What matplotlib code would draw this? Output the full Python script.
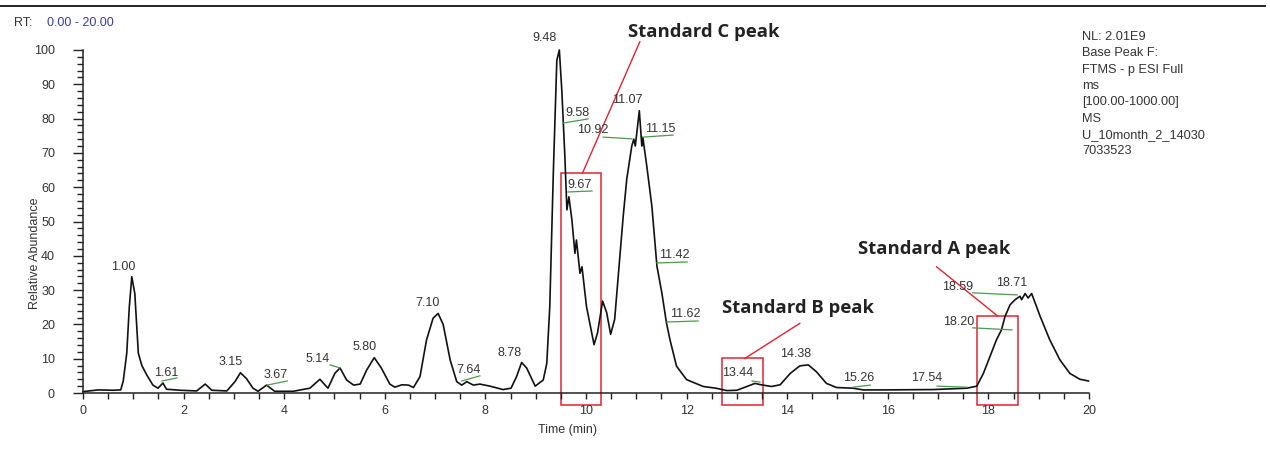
import matplotlib.pyplot as plt
from matplotlib.lines import Line2D
from matplotlib.patches import Rectangle
from matplotlib.ticker import MultipleLocator

# .. Chromatogram trace (time in min, relative abundance in %).
times = [
    0.00, 0.30, 0.60, 0.75, 0.80, 0.87, 0.92, 0.97, 1.03, 1.10, 1.17, 1.27,
    1.39, 1.49, 1.59, 1.66, 1.93, 2.26, 2.43, 2.56, 2.86, 3.02, 3.13, 3.25,
    3.38, 3.48, 3.65, 3.81, 4.18, 4.51, 4.71, 4.87, 5.01, 5.11, 5.24, 5.38,
    5.51, 5.64, 5.79, 5.93, 6.10, 6.20, 6.34, 6.47, 6.57, 6.70, 6.83, 6.96,
    7.06, 7.16, 7.30, 7.43, 7.53, 7.63, 7.76, 7.89, 8.09, 8.35, 8.51, 8.62,
    8.72, 8.82, 8.99, 9.15, 9.22, 9.28, 9.35, 9.42, 9.47, 9.52, 9.55, 9.58,
    9.62, 9.66, 9.72, 9.78, 9.81, 9.88, 9.92, 10.01, 10.16, 10.23, 10.33,
    10.41, 10.49, 10.57, 10.74, 10.81, 10.91, 10.95, 10.98, 11.06, 11.11,
    11.13, 11.21, 11.31, 11.41, 11.51, 11.60, 11.67, 11.80, 12.00, 12.33,
    12.58, 12.80, 13.00, 13.36, 13.48, 13.69, 13.86, 14.06, 14.25, 14.42,
    14.58, 14.78, 14.98, 15.31, 15.51, 15.91, 16.90, 17.57, 17.77, 17.90,
    18.03, 18.16, 18.26, 18.33, 18.43, 18.53, 18.63, 18.66, 18.73, 18.79,
    18.86, 19.03, 19.22, 19.42, 19.62, 19.82, 19.99,
]
abundance = [
    0.4, 0.9, 0.8, 0.9, 3.5, 11.6, 25.0, 33.9, 29.0, 11.6, 8.0, 5.2,
    2.3, 1.4, 2.9, 1.1, 0.8, 0.6, 2.6, 0.8, 0.6, 3.3, 5.9, 4.2,
    1.4, 0.5, 2.3, 0.5, 0.5, 1.4, 4.0, 1.4, 5.8, 7.3, 3.8, 2.3,
    2.6, 6.7, 10.3, 7.3, 2.6, 1.7, 2.4, 2.3, 1.6, 4.8, 15.5, 21.8,
    23.2, 20.0, 9.6, 3.3, 2.3, 3.3, 2.3, 2.6, 2.0, 1.0, 1.4, 4.8,
    8.9, 7.3, 2.0, 3.8, 8.6, 25.2, 64.0, 97.0, 100.0, 88.0, 78.6, 68.9,
    53.4, 57.2, 50.4, 40.7, 44.6, 34.9, 36.8, 25.2, 14.1, 17.6, 26.8,
    23.5, 17.1, 21.5, 51.6, 62.3, 72.0, 74.0, 72.0, 82.3, 72.0,
    74.5, 66.0, 54.4, 37.0, 29.0, 20.4, 15.5, 7.8, 3.9, 1.9,
    1.4, 0.7, 0.8, 2.8, 2.4, 1.9, 2.4, 5.7, 7.9, 8.2,
    6.2, 2.8, 1.6, 1.4, 0.9, 0.9, 1.0, 1.4, 2.0, 5.7,
    10.6, 15.5, 18.4, 22.3, 25.7, 27.2, 28.2, 27.2, 29.0, 27.7,
    29.0, 22.3, 15.5, 9.7, 5.7, 4.0, 3.5,
]

# .. Peak labels: text, label anchor (time, abundance).
peak_labels = ["1.00", "1.61", "3.15", "3.67", "5.14", "5.80", "7.10",
               "7.64", "8.78", "9.48", "9.58", "10.92", "11.07", "11.15",
               "9.67", "11.42", "11.62", "13.44", "14.38", "15.26", "17.54",
               "18.59", "18.71", "18.20"]
label_t = [0.81, 1.65, 2.94, 3.84, 4.67, 5.59, 6.84, 7.67, 8.49, 9.18, 9.82,
           10.14, 10.83, 11.47, 9.88, 11.75, 11.97, 13.02, 14.17, 15.43,
           16.78, 17.38, 18.47, 17.40]
label_y = [36.7, 5.8, 9.0, 5.2, 9.9, 13.4, 26.2, 6.7, 11.7, 103.5, 81.6,
           76.7, 85.4, 77.0, 60.6, 40.2, 23.0, 5.8, 11.4, 4.4, 4.4, 30.9,
           32.1, 20.7]

# .. Green leader lines (t0, y0, t1, y1).
leaders = [
    (1.57, 3.5, 1.87, 4.4), (3.66, 2.3, 4.06, 3.5), (4.91, 8.2, 5.11, 7.3),
    (7.53, 3.5, 7.89, 5.0), (9.54, 78.7, 10.04, 79.9),
    (10.34, 74.6, 10.91, 74.1), (11.13, 74.6, 11.73, 75.2),
    (9.64, 58.6, 10.12, 58.9), (11.41, 37.9, 12.01, 38.2),
    (11.61, 20.7, 12.23, 21.0), (13.30, 3.5, 13.46, 3.2),
    (15.31, 1.7, 15.65, 2.3), (16.98, 2.0, 17.57, 1.7),
    (17.69, 29.2, 18.57, 28.6), (17.69, 19.0, 18.47, 18.4),
]

# .. Standard peak highlights: name, box (t0, t1, y0, y1), line, text anchor.
std_names = ["Standard C peak", "Standard B peak", "Standard A peak"]
std_boxes = [(9.50, 10.30, -3.5, 64.1), (12.70, 13.52, -3.5, 10.2),
             (17.77, 18.58, -3.5, 22.4)]
std_lines = [(9.93, 64.1, 11.07, 102.4), (13.16, 10.1, 14.25, 20.3),
             (18.18, 22.5, 16.97, 36.8)]
std_text = [(10.83, 105.2), (12.70, 24.8), (15.41, 42.0)]

info_lines = ["NL: 2.01E9", "Base Peak F:", "FTMS - p ESI Full", "ms",
              "[100.00-1000.00]", "MS", "U_10month_2_14030", "7033523"]

W, H = 1270, 449
fig = plt.figure(figsize=(W / 100, H / 100), dpi=100)
plt.rcParams["font.family"] = ["Liberation Sans", "DejaVu Sans"]
ax = fig.add_axes([83 / W, 1 - 393 / H, 1006 / W, 343 / H])

txt_col = "#333333"
red = "#e3232f"
green = "#4c9a4c"
fs = 9

# .. Trace.
ax.plot(times, abundance, color="#111111", lw=1.2, clip_on=False)

# .. Peak labels and leaders.
for lab, t, y in zip(peak_labels, label_t, label_y):
    ax.text(t, y, lab, ha="center", va="center", fontsize=fs, color=txt_col,
            clip_on=False)
for t0, y0, t1, y1 in leaders:
    ax.plot([t0, t1], [y0, y1], color=green, lw=0.9, clip_on=False)

# .. Standard highlights.
for name, box, ln, pos in zip(std_names, std_boxes, std_lines, std_text):
    t0, t1, y0, y1 = box
    ax.add_patch(Rectangle((t0, y0), t1 - t0, y1 - y0, fill=False,
                           edgecolor=red, lw=1.1, clip_on=False))
    ax.plot([ln[0], ln[2]], [ln[1], ln[3]], color=red, lw=1.0,
            clip_on=False)
    ax.text(pos[0], pos[1], name, ha="left", va="center", fontsize=13.3,
            fontweight="bold", family=["Open Sans", "DejaVu Sans"],
            color="#222222", clip_on=False)

# .. Axes styling.
ax.set_xlim(0, 20)
ax.set_ylim(0, 100)
for side in ("top", "right"):
    ax.spines[side].set_visible(False)
for side in ("left", "bottom"):
    ax.spines[side].set_linewidth(1.1)
    ax.spines[side].set_color("#222222")
ax.xaxis.set_major_locator(MultipleLocator(2))
ax.xaxis.set_minor_locator(MultipleLocator(0.5))
ax.yaxis.set_major_locator(MultipleLocator(10))
ax.yaxis.set_minor_locator(MultipleLocator(2))
ax.tick_params(axis="x", which="both", direction="out", length=4.5,
               width=1.0, colors="#222222", labelcolor=txt_col,
               labelsize=fs, pad=4)
ax.tick_params(axis="y", which="major", direction="out", length=7.2,
               width=1.0, colors="#222222", labelcolor=txt_col,
               labelsize=fs, pad=13)
ax.tick_params(axis="y", which="minor", direction="out", length=4,
               width=1.0, colors="#222222")

# .. Figure texts.
fig.text(35 / W, 1 - 253 / H, "Relative Abundance", rotation=90,
         ha="center", va="center", fontsize=fs, color=txt_col)
fig.text(567 / W, 1 - 430 / H, "Time (min)", ha="center", va="center",
         fontsize=fs, color=txt_col)
fig.text(14 / W, 1 - 22.5 / H, "RT:", ha="left", va="center", fontsize=fs,
         color=txt_col)
fig.text(47 / W, 1 - 22.5 / H, "0.00 - 20.00", ha="left", va="center",
         fontsize=fs, color="#3a3aa8")
for i, line in enumerate(info_lines):
    fig.text(1082 / W, 1 - (36.7 + 16.4 * i) / H, line, ha="left",
             va="center", fontsize=9.2, color=txt_col)
fig.add_artist(Line2D([0, 1265 / W], [1 - 6 / H, 1 - 6 / H],
                      color="#222222", lw=1.4))

fig.savefig("out.png", dpi=100)
